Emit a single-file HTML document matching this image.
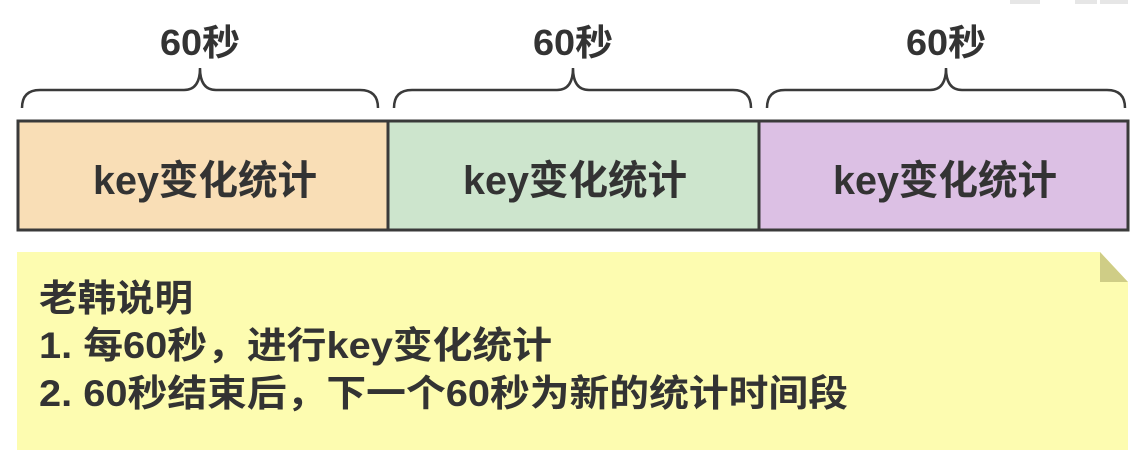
<!DOCTYPE html>
<html><head><meta charset="utf-8"><style>
html,body{margin:0;padding:0;background:#fff;}
svg{display:block;}
text{font-family:"Liberation Sans","Noto Sans CJK SC",sans-serif;font-weight:bold;fill:#333;}
</style></head><body>
<svg width="1138" height="460" viewBox="0 0 1138 460">
<rect x="1010" y="0" width="30" height="4" fill="#e6e6e6"/>
<rect x="1075" y="0" width="22" height="4" fill="#e6e6e6"/>
<rect x="1100" y="0" width="28" height="4" fill="#e6e6e6"/>
<g fill="none" stroke="#3a3a3a" stroke-width="2.5">
<path d="M22 108 Q22 90 40 90 L184 90 Q200 90 200 68 Q200 90 216 90 L360 90 Q378 90 378 108"/>
<path d="M394 108 Q394 90 412 90 L557 90 Q573 90 573 68 Q573 90 589 90 L733 90 Q751 90 751 108"/>
<path d="M767 108 Q767 90 785 90 L930 90 Q946 90 946 68 Q946 90 962 90 L1107 90 Q1125 90 1125 108"/>
</g>
<text x="160" y="55" font-size="36" textLength="80" lengthAdjust="spacingAndGlyphs">60秒</text>
<text x="533" y="55" font-size="36" textLength="80" lengthAdjust="spacingAndGlyphs">60秒</text>
<text x="906" y="55" font-size="36" textLength="80" lengthAdjust="spacingAndGlyphs">60秒</text>
<g stroke="#3a3a3a" stroke-width="3">
<rect x="18" y="121" width="370" height="109" fill="#f9deb6"/>
<rect x="388" y="121" width="371" height="109" fill="#cde5cd"/>
<rect x="759" y="121" width="369" height="109" fill="#dcc0e4"/>
</g>
<text x="93" y="194" font-size="40" textLength="224" lengthAdjust="spacingAndGlyphs">key变化统计</text>
<text x="463" y="194" font-size="40" textLength="224" lengthAdjust="spacingAndGlyphs">key变化统计</text>
<text x="833" y="194" font-size="40" textLength="224" lengthAdjust="spacingAndGlyphs">key变化统计</text>
<path d="M17 252 L1100 252 L1128 282 L1128 450 L17 450 Z" fill="#fdfcb0"/>
<path d="M1100 252 L1100 282 L1128 282 Z" fill="#cfcd86"/>
<text x="39" y="311" font-size="37" textLength="154" lengthAdjust="spacingAndGlyphs">老韩说明</text>
<text x="39" y="358" font-size="37" textLength="513" lengthAdjust="spacingAndGlyphs">1. 每60秒，进行key变化统计</text>
<text x="39" y="406" font-size="37" textLength="809" lengthAdjust="spacingAndGlyphs">2. 60秒结束后，下一个60秒为新的统计时间段</text>
</svg>
</body></html>
